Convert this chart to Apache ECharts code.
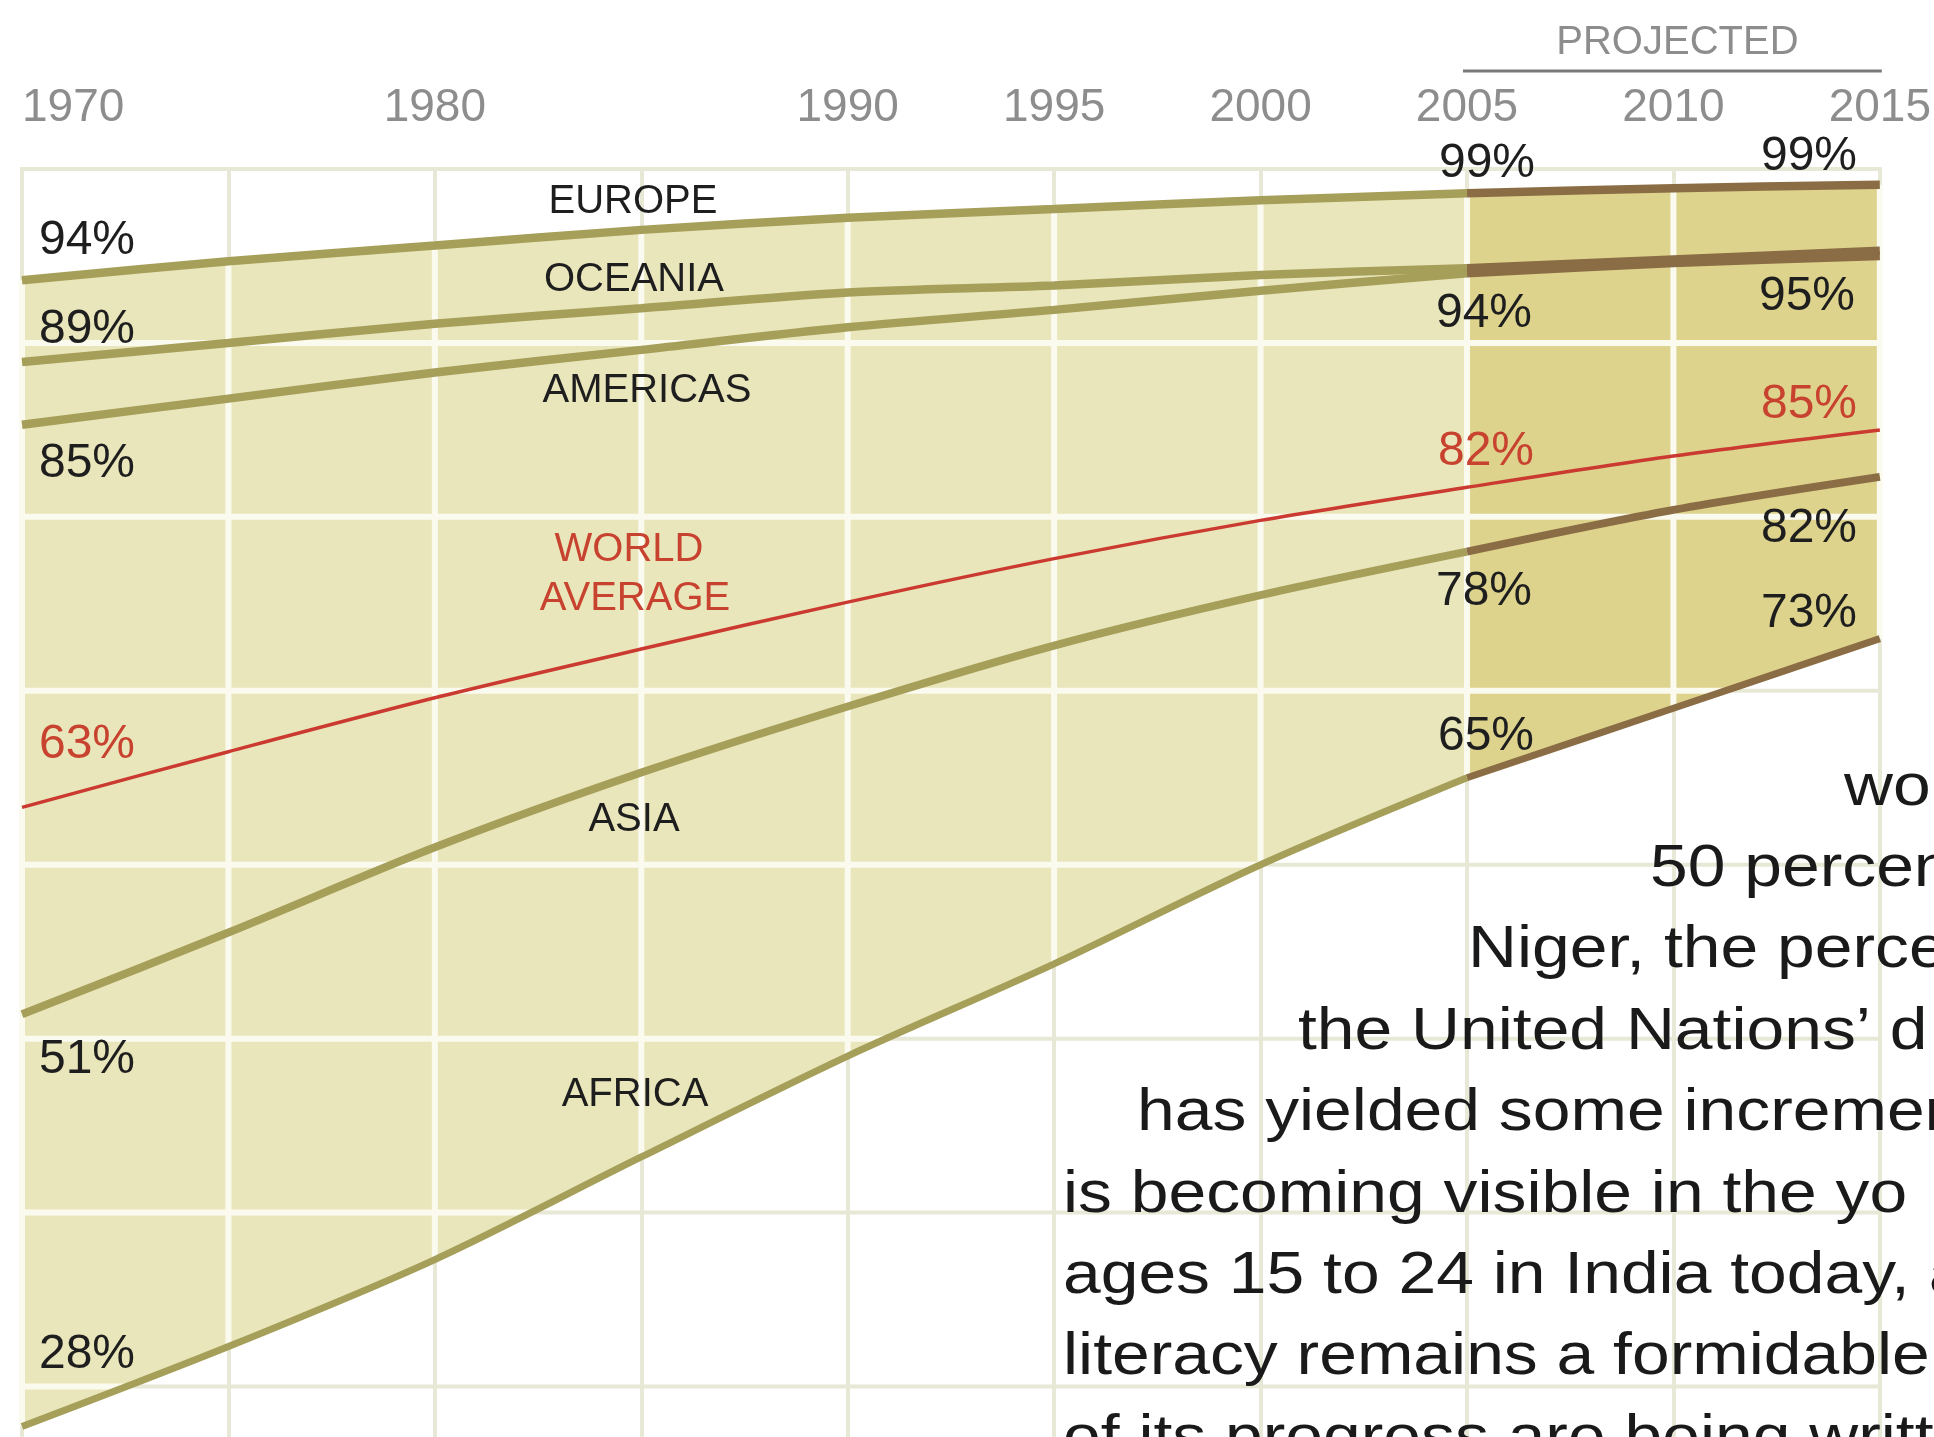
<!DOCTYPE html>
<html>
<head>
<meta charset="utf-8">
<script src="https://cdn.jsdelivr.net/npm/echarts@6/dist/echarts.min.js"></script>
<style>
html,body{margin:0;padding:0;background:#ffffff;overflow:hidden;}
#chart{width:1934px;height:1437px;}
</style>
</head>
<body>
<div id="chart"></div>
<script>
// ---------------- data ----------------
const years    = [1970, 1975, 1980, 1985, 1990, 1995, 2000, 2005, 2010, 2015];
const europe   = [93.6, 94.7, 95.6, 96.5, 97.2, 97.7, 98.2, 98.6, 98.9, 99.1];
const oceania  = [88.9, 90.0, 91.1, 92.0, 92.9, 93.3, 93.9, 94.3, 94.8, 95.3];
const americas = [85.3, 86.8, 88.3, 89.6, 90.9, 91.9, 93.0, 94.0, 94.6, 95.0];
const world    = [63.3, 66.5, 69.6, 72.4, 75.1, 77.6, 79.8, 81.7, 83.5, 85.0];
const asia     = [51.4, 56.1, 61.0, 65.3, 69.1, 72.6, 75.5, 78.0, 80.4, 82.3];
const africa   = [27.7, 32.3, 37.3, 43.2, 49.0, 54.3, 60.0, 65.0, 69.0, 73.0];
const projectedFrom = 2005;
const tickYears = [1970, 1980, 1990, 1995, 2000, 2005, 2010, 2015];
const yGridValues = [30, 40, 50, 60, 70, 80, 90, 100];
const bodyLines = [
  'wo',
  '50 percen',
  'Niger, the perce',
  'the United Nations\u2019 d',
  'has yielded some incremen',
  'is becoming visible in the yo',
  'ages 15 to 24 in India today, al',
  'literacy remains a formidable',
  'of its progress are being writt'
];

// ---------------- styles ----------------
const OLIVE = '#A69F5A';
const BROWN = '#8B6D45';
const RED = '#CB3A30';
const BAND = '#EAE6BB';
const PROJ = '#DED38C';
const GRID_OUT = '#E8E8D6';
const GRID_IN = '#FBFAEF';
const LABEL_FONT = 'Liberation Sans, Arial, Helvetica, sans-serif';
const BODY_FONT = 'Liberation Sans, Arial, Helvetica, sans-serif';

const pIdx = years.indexOf(projectedFrom);
const pairs = (vals, a, b) => years.slice(a, b + 1).map((y, k) => [y, vals[a + k]]);

function lerp(vals, x) {
  for (let i = 0; i < years.length - 1; i++) {
    if (x >= years[i] && x <= years[i + 1]) {
      const t = (x - years[i]) / (years[i + 1] - years[i]);
      return vals[i] + t * (vals[i + 1] - vals[i]);
    }
  }
  return vals[vals.length - 1];
}

function bandPolygon(api, i0, i1) {
  const pts = [];
  for (let i = i0; i <= i1; i++) pts.push(api.coord([years[i], europe[i]]));
  for (let i = i1; i >= i0; i--) pts.push(api.coord([years[i], africa[i]]));
  return pts;
}

// white grid segments that lie inside the filled band
function innerSegments() {
  const segs = [];
  years.forEach((y, i) => segs.push([[y, africa[i]], [y, europe[i]]]));
  const x0 = years[0], x1 = years[years.length - 1], step = 0.02;
  yGridValues.forEach(v => {
    let start = null, last = null;
    for (let x = x0; x <= x1 + 1e-9; x += step) {
      const xx = Math.min(x, x1);
      const inside = lerp(africa, xx) < v && lerp(europe, xx) > v;
      if (inside && start === null) start = xx;
      if (!inside && start !== null) { segs.push([[start, v], [last, v]]); start = null; }
      last = xx;
    }
    if (start !== null) segs.push([[start, v], [x1, v]]);
  });
  return segs;
}

const chart = echarts.init(document.getElementById('chart'), null, {renderer: 'canvas'});

const series = [];
// pale horizontal grid lines (whole width)
series.push({
  type: 'custom', z: 0, silent: true, animation: false,
  data: [[1990, 60]],
  renderItem: (params, api) => ({
    type: 'group',
    children: yGridValues.map(v => {
      const a = api.coord([years[0], v]), b = api.coord([years[years.length - 1], v]);
      return {type: 'line', shape: {x1: a[0] - 2, y1: a[1], x2: b[0] + 2, y2: b[1]},
              style: {stroke: GRID_OUT, lineWidth: 4}};
    })
  })
});
// band fill
series.push({
  type: 'custom', z: 1, silent: true, animation: false,
  data: [[1990, 60]],
  renderItem: (params, api) => ({
    type: 'group',
    children: [
      {type: 'polygon', shape: {points: bandPolygon(api, 0, years.length - 1)}, style: {fill: BAND}},
      {type: 'polygon', shape: {points: bandPolygon(api, pIdx, years.length - 1)}, style: {fill: PROJ}}
    ]
  })
});
// light grid inside band
const segs = innerSegments();
series.push({
  type: 'custom', z: 2, silent: true, animation: false,
  data: [[1990, 60]],
  renderItem: (params, api) => ({
    type: 'group',
    children: segs.map(s => {
      const a = api.coord(s[0]), b = api.coord(s[1]);
      return {type: 'line', shape: {x1: a[0], y1: a[1], x2: b[0], y2: b[1]},
              style: {stroke: GRID_IN, lineWidth: 6}};
    })
  })
});

const regions = [
  {name: 'Africa', vals: africa, w: 7},
  {name: 'Asia', vals: asia, w: 8},
  {name: 'Americas', vals: americas, w: 8.5},
  {name: 'Oceania', vals: oceania, w: 8.5},
  {name: 'Europe', vals: europe, w: 8.5}
];
regions.forEach(r => {
  series.push({
    name: r.name, type: 'line', z: 3, silent: true, animation: false,
    showSymbol: false, smooth: 0.3,
    data: pairs(r.vals, 0, pIdx),
    lineStyle: {color: OLIVE, width: r.w}
  });
  series.push({
    name: r.name + ' projected', type: 'line', z: 3, silent: true, animation: false,
    showSymbol: false, smooth: 0.3,
    data: pairs(r.vals, pIdx, years.length - 1),
    lineStyle: {color: BROWN, width: r.w}
  });
});
series.push({
  name: 'World average', type: 'line', z: 4, silent: true, animation: false,
  showSymbol: false, smooth: 0.3,
  data: pairs(world, 0, years.length - 1),
  lineStyle: {color: RED, width: 3.5}
});

chart.setOption({
  animation: false,
  backgroundColor: '#ffffff',
  grid: {left: 22, top: 169, right: 51, bottom: 0, containLabel: false},
  xAxis: {
    type: 'value', position: 'top', min: 1970, max: 2015, interval: 5,
    axisLine: {show: false}, axisTick: {show: false},
    axisLabel: {
      formatter: v => tickYears.includes(v) ? String(v) : '',
      color: '#8D8D8D', fontSize: 46, fontFamily: LABEL_FONT, margin: 38,
      showMinLabel: true, showMaxLabel: true, alignMinLabel: 'left'
    },
    splitLine: {show: true, lineStyle: {color: GRID_OUT, width: 4}}
  },
  yAxis: {
    type: 'value', min: 27.1, max: 100,
    axisLine: {show: false}, axisTick: {show: false}, axisLabel: {show: false},
    splitLine: {show: false}
  },
  series: series
});

// ---------------- annotations ----------------
function txt(text, x, y, size, color, align, font, sx) {
  return {
    type: 'text', z: 50, silent: true,
    x: x, y: y, scaleX: sx || 1,
    style: {
      text: text, x: 0, y: 0,
      font: size + 'px ' + (font || LABEL_FONT),
      fill: color,
      align: align || 'center', verticalAlign: 'middle',
      textAlign: align || 'center', textVerticalAlign: 'middle'
    }
  };
}
const DARK = '#1E1E1E';
const LRED = '#C8432F';
const g = [];
// region names
g.push(txt('EUROPE', 633, 202, 40, DARK));
g.push(txt('OCEANIA', 634, 280, 40, DARK));
g.push(txt('AMERICAS', 647, 391, 40, DARK));
g.push(txt('WORLD', 629, 550, 40, LRED));
g.push(txt('AVERAGE', 635, 599, 40, LRED));
g.push(txt('ASIA', 634, 820, 40, DARK));
g.push(txt('AFRICA', 635, 1095, 40, DARK));
// values 1970
g.push(txt('94%', 87, 241, 48, DARK));
g.push(txt('89%', 87, 330, 48, DARK));
g.push(txt('85%', 87, 464, 48, DARK));
g.push(txt('63%', 87, 745, 48, LRED));
g.push(txt('51%', 87, 1060, 48, DARK));
g.push(txt('28%', 87, 1355, 48, DARK));
// values 2005
g.push(txt('99%', 1487, 164, 48, DARK));
g.push(txt('94%', 1484, 314, 48, DARK));
g.push(txt('82%', 1486, 452, 48, LRED));
g.push(txt('78%', 1484, 592, 48, DARK));
g.push(txt('65%', 1486, 737, 48, DARK));
// values 2015
g.push(txt('99%', 1809, 157, 48, DARK));
g.push(txt('95%', 1807, 297, 48, DARK));
g.push(txt('85%', 1809, 405, 48, LRED));
g.push(txt('82%', 1809, 529, 48, DARK));
g.push(txt('73%', 1809, 614, 48, DARK));
// projected bracket
const pa = chart.convertToPixel({xAxisIndex: 0, yAxisIndex: 0}, [projectedFrom, 100]);
const pb = chart.convertToPixel({xAxisIndex: 0, yAxisIndex: 0}, [years[years.length - 1], 100]);
g.push({type: 'line', z: 50, silent: true,
        shape: {x1: pa[0] - 4, y1: 71, x2: pb[0] + 2, y2: 71},
        style: {stroke: '#7A7A7A', lineWidth: 3}});
g.push(txt('PROJECTED', (pa[0] + pb[0]) / 2 + 4, 43, 40, '#8D8D8D'));
// body text
const bodyX = [1844, 1650, 1468, 1298, 1137, 1063, 1063, 1063, 1063];
bodyLines.forEach((t, i) => {
  const base = 803 + i * 81.4;
  g.push(txt(t, bodyX[i], base - 15, 60, '#1A1A1A', 'left', BODY_FONT, 1.13));
});
chart.setOption({graphic: {elements: g}});
</script>
</body>
</html>
